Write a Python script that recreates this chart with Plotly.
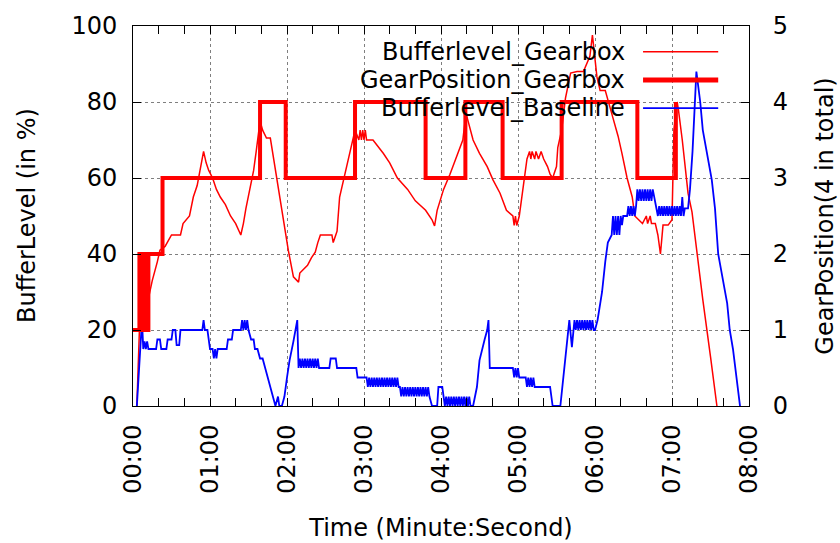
import plotly.graph_objects as go

# ---------------- data (time in seconds) ----------------
gear_points = [(0, 1), (5, 2), (6, 1), (8, 2), (9, 1), (12, 2), (23, 3), (99, 4), (119, 3),
               (173, 4), (228, 3), (259, 4), (288, 3), (334, 4), (393, 3), (423, 4)]

red_points = [(3, 0), (5, 20), (8, 22), (12, 28), (15, 33), (19, 38), (21, 41), (25, 42), (30, 45),
              (37, 45), (39, 48), (44, 50), (47, 55), (50, 58), (52, 62), (54, 65), (55, 67), (57, 64),
              (59, 62), (62, 60), (65, 57), (68, 55), (72, 53), (76, 50), (80, 48), (84, 45), (86, 48),
              (88, 52), (91, 57), (94, 62), (96, 67), (98, 72), (99, 75), (101, 72.6), (104, 70.5),
              (107, 70.5), (117, 49), (121, 41), (125, 34), (129, 32.6), (130, 35), (136, 37), (139, 39),
              (142, 40.5), (144, 43), (146, 45), (155, 45), (156, 43), (158, 45), (159, 46), (161, 55),
              (167, 64), (171, 70), (173, 72.6), (176, 70), (177, 72.6), (178, 70), (179, 72.6), (180, 70),
              (181, 72.6), (182, 70), (187, 70), (195, 66.5), (200, 64), (206, 60), (214, 57), (220, 54),
              (228, 51.5), (233, 49), (235, 47.4), (237, 51.5), (242, 57), (247, 61), (252, 65.5),
              (257, 70), (259.5, 77), (265, 70), (270, 66.5), (276, 63), (280.5, 59.5), (286, 56),
              (291, 51.5), (296, 50), (297, 47.5), (298, 50), (299, 47.5), (301, 50), (307, 65), (309, 67),
              (310, 65), (311, 67), (313, 65), (314, 67), (316, 65), (318, 67), (320, 65), (323, 63),
              (325, 61), (327, 60), (330, 63), (331, 68), (334, 72.6), (337, 81), (341, 87.6), (346, 88),
              (351, 88), (356, 92), (358, 97.6), (361.5, 86.6), (364, 83), (368, 83), (373, 77), (378, 71),
              (381, 66.5), (385, 60), (389, 55), (391, 50), (397, 48), (400, 50), (401, 48), (403, 50),
              (404, 48), (407, 48), (409, 45), (411, 40), (413, 47.6), (417, 47.6), (420, 49),
              (421.5, 72.6), (424, 80), (425, 78), (428, 70), (430, 64), (432.5, 56), (435.6, 51),
              (439.5, 40), (444, 28), (450, 13), (453.5, 4), (455, 0)]

blue_points = [(3, 0), (7, 22.6), (8, 15), (9, 17), (10, 15), (11, 17), (12, 15), (18, 15), (19, 17.5),
               (21, 17.5), (22, 15), (26, 15), (27, 17.5), (30, 17.5), (31, 20), (33, 20), (34, 16),
               (36, 16), (37, 20), (54, 20), (55, 22.6), (56, 20), (58, 20), (59, 17.5), (60, 15),
               (62, 15), (63, 12.5), (64, 15), (65, 12.5), (66, 15), (73, 15), (74, 17.5), (77, 17.5),
               (78, 20), (84, 20), (85, 22.6), (86, 20), (87, 22.6), (88, 20), (89, 22.6), (90, 20),
               (92, 17.5), (94, 17.5), (95, 15), (97, 15), (99, 12.5), (101, 12.5), (103, 10), (105, 7.5),
               (107, 5), (109, 2.5), (111, 0), (113, 2.5), (114, 0), (116, 0), (118, 2.5), (120, 7.5),
               (122, 12), (125, 17), (128, 22.6),
               (129, 10), (130, 12.5), (131, 10), (132, 12.5), (133, 10), (134, 12.5), (135, 10),
               (136, 12.5), (137, 10), (138, 12.5), (139, 10), (140, 12.5), (141, 10), (142, 12.5),
               (143, 10), (144, 12.5), (145, 10), (153, 10), (154, 12.5), (158, 12.5), (159, 10),
               (174, 10), (175, 7.5), (182, 7.5),
               (183, 5), (184, 7.5), (185, 5), (186, 7.5), (187, 5), (188, 7.5), (189, 5), (190, 7.5),
               (191, 5), (192, 7.5), (193, 5), (194, 7.5), (195, 5), (196, 7.5), (197, 5), (198, 7.5),
               (199, 5), (200, 7.5), (201, 5), (202, 7.5), (203, 5), (204, 7.5), (205, 5), (206, 7.5),
               (207, 5), (208, 5),
               (209, 2.5), (210, 5), (211, 2.5), (212, 5), (213, 2.5), (214, 5), (215, 2.5), (216, 5),
               (217, 2.5), (218, 5), (219, 2.5), (220, 5), (221, 2.5), (222, 5), (223, 2.5), (224, 5),
               (225, 2.5), (226, 5), (227, 2.5), (228, 5), (229, 2.5), (230, 5), (231, 2.5), (233, 0),
               (237, 0), (238, 5), (241, 5), (242, 2.5),
               (243, 0), (244, 2.5), (245, 0), (246, 2.5), (247, 0), (248, 2.5), (249, 0), (250, 2.5),
               (251, 0), (252, 2.5), (253, 0), (254, 2.5), (255, 0), (256, 2.5), (257, 0), (258, 2.5),
               (259, 0), (260, 2.5), (261, 0), (262, 2.5), (263, 0), (265, 0),
               (268, 5), (270, 12), (272, 15), (274, 17.5), (276, 20), (277, 22.6), (278, 10), (296, 10),
               (297, 7.5), (298, 10), (299, 7.5), (300, 10), (301, 7.5), (306, 7.5), (307, 5), (308, 7.5),
               (309, 5), (310, 7.5), (311, 5), (312, 7.5), (313, 5), (325, 5), (326, 2.5), (327, 0),
               (333, 0), (338, 17.4), (340, 22.6), (342, 15.5), (344, 22.6),
               (345, 20), (346, 22.6), (347, 20), (348, 22.6), (349, 20), (350, 22.6), (351, 20),
               (352, 22.6), (353, 20), (354, 22.6), (355, 20), (356, 22.6), (357, 20), (358, 22.6),
               (359, 20), (360, 20), (362, 22.6), (365.5, 30), (368, 38), (370, 43), (373, 45),
               (374, 50), (375, 45), (376, 50), (377, 45), (378, 50), (379, 45), (380, 50), (381, 47.6),
               (382, 50), (385, 50), (386, 52.6), (387, 50), (388, 52.6), (389, 50), (390, 52.6),
               (391, 50), (392, 52.6), (393, 57), (394, 54), (395, 57), (396, 54), (397, 57), (398, 54),
               (399, 57), (400, 54), (401, 57), (402, 54), (403, 57), (404, 54), (405, 57), (408, 51),
               (409, 50), (410, 52.6), (411, 50), (412, 52.6), (413, 50), (414, 52.6), (415, 50),
               (416, 52.6), (417, 50), (418, 52.6), (419, 50), (420, 52.6), (421, 50), (422, 52.6),
               (423, 50), (424, 52.6), (425, 50), (426, 52.6), (427, 50), (428, 55), (429, 50),
               (430, 52), (432.5, 52), (434, 57), (436, 67), (439, 88), (442, 80), (444, 72.6),
               (447, 66.5), (451, 59.5), (453.5, 52), (456, 40), (463, 27), (465, 20), (467.5, 15),
               (470.6, 7), (473, 0)]

gear_t, gear_v = [p[0] for p in gear_points], [p[1] for p in gear_points]
red_t, red_v = [p[0] for p in red_points], [p[1] for p in red_points]
blue_t, blue_v = [p[0] for p in blue_points], [p[1] for p in blue_points]

x_tickvals = [0, 60, 120, 180, 240, 300, 360, 420, 480]
x_ticktext = ["00:00", "01:00", "02:00", "03:00", "04:00", "05:00", "06:00", "07:00", "08:00"]

FONT = "DejaVu Sans"
FS = 24
RED = "#ff0000"
BLUE = "#0000ff"

fig = go.Figure()
fig.add_trace(go.Scatter(x=red_t, y=red_v, mode="lines", name="Bufferlevel_Gearbox",
                         line=dict(color=RED, width=1.5)))
fig.add_trace(go.Scatter(x=gear_t, y=gear_v, mode="lines", name="GearPosition_Gearbox",
                         line=dict(color=RED, width=4, shape="hv"), yaxis="y2"))
fig.add_trace(go.Scatter(x=blue_t, y=blue_v, mode="lines", name="Bufferlevel_Baseline",
                         line=dict(color=BLUE, width=1.8)))

grid = dict(showgrid=True, gridcolor="#7f7f7f", griddash="dot", gridwidth=1)

fig.update_layout(
    width=840, height=543, autosize=False,
    margin=dict(l=133, r=91, t=26, b=137),
    paper_bgcolor="white", plot_bgcolor="white",
    showlegend=False,
    font=dict(family=FONT, size=FS, color="black"),
    xaxis=dict(range=[0, 480], tickvals=x_tickvals, ticktext=x_ticktext, tickangle=-90,
               ticks="inside", ticklen=8, tickcolor="black", showline=True, linecolor="black",
               linewidth=1, mirror="allticks", zeroline=False, automargin=False,
               minor=dict(dtick=20, tick0=0, ticks="inside", ticklen=5, tickcolor="black", showgrid=False),
               ticklabelstandoff=8,
               title=dict(text="Time (Minute:Second)", standoff=26, font=dict(family=FONT, size=FS)),
               **grid),
    yaxis=dict(range=[0, 100], tickvals=[0, 20, 40, 60, 80, 100], ticks="inside", ticklen=8,
               tickcolor="black", showline=True, linecolor="black", linewidth=1, zeroline=False,
               ticklabelstandoff=10, automargin=False, **grid),
    yaxis2=dict(range=[0, 5], tickvals=[0, 1, 2, 3, 4, 5], overlaying="y", side="right",
                ticks="inside", ticklen=8, tickcolor="black", showline=True, linecolor="black",
                linewidth=1, showgrid=False, zeroline=False, ticklabelstandoff=18, automargin=False,
                title=dict(text="GearPosition(4 in total)", standoff=29, font=dict(family=FONT, size=FS))),
)

# left axis title as annotation (anchored by its rotated box's left edge)
fig.add_annotation(x=-0.198, y=0.5, xref="paper", yref="paper", text="BufferLevel (in %)",
                   textangle=-90, showarrow=False, font=dict(family=FONT, size=FS))

# legend background (hides grid only), drawn between grid and traces
fig.add_shape(type="rect", xref="paper", yref="paper", x0=0.292, x1=0.974, y0=0.745, y1=0.998,
              fillcolor="white", line=dict(width=0), layer="between")

# manual legend, gnuplot style (text right-aligned, sample at right)
legend_rows = [("Bufferlevel_Gearbox", RED, 1.5, 0.932),
               ("GearPosition_Gearbox", RED, 5, 0.858),
               ("Bufferlevel_Baseline", BLUE, 1.8, 0.784)]
for label, col, w, yy in legend_rows:
    fig.add_annotation(x=0.802, y=yy, xref="paper", yref="paper", text=label, showarrow=False,
                       xanchor="right", yanchor="middle", font=dict(family=FONT, size=FS))
    fig.add_shape(type="line", xref="paper", yref="paper", x0=0.828, x1=0.950, y0=yy, y1=yy,
                  line=dict(color=col, width=w), layer="above")

fig.write_html("out.html")
